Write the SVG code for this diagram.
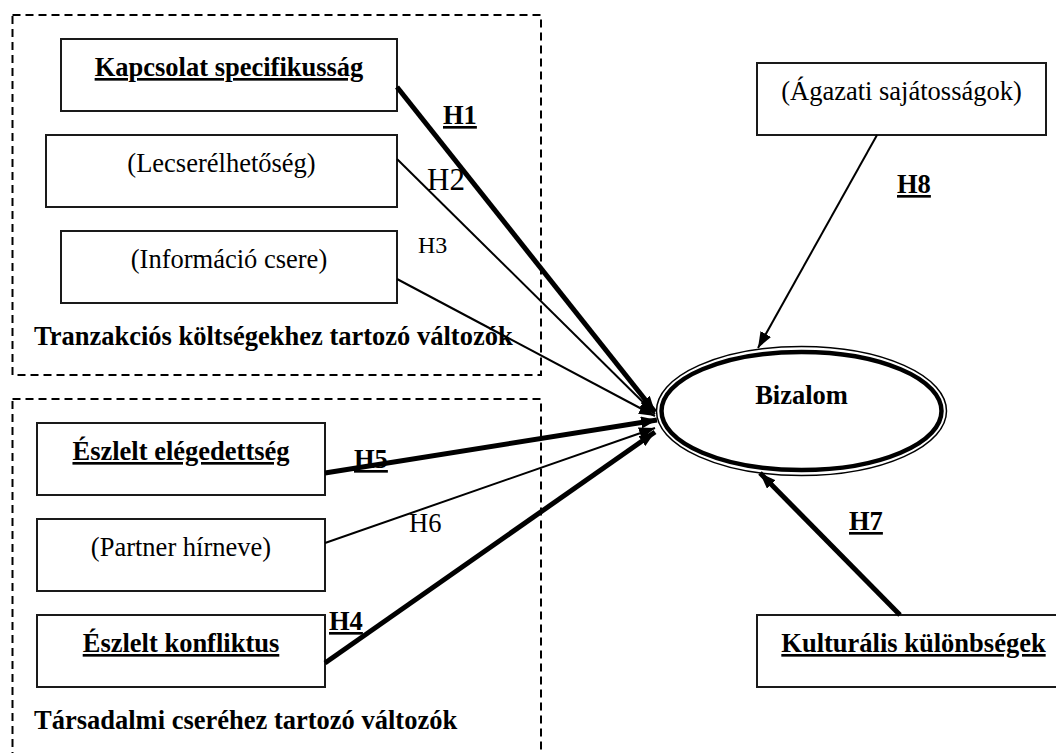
<svg xmlns="http://www.w3.org/2000/svg" width="1056" height="753" viewBox="0 0 1056 753">
<defs>
<style>
.grp{fill:none;stroke:#000;stroke-width:2;stroke-dasharray:8,5}
.box{fill:#fff;stroke:#1a1a1a;stroke-width:2}
text{font-family:"Liberation Serif","Times New Roman",serif;font-size:26.5px;fill:#000}
.b{font-weight:bold}
.c{text-anchor:middle}
.u{text-decoration:underline;text-decoration-thickness:3px;text-underline-offset:2px}
.thin{stroke:#000;stroke-width:2;fill:none}
.thick{stroke:#000;stroke-width:5;fill:none}
</style>
<marker id="ah" markerUnits="userSpaceOnUse" markerWidth="16" markerHeight="12" refX="16" refY="6" orient="auto">
<path d="M0,0 L16,6 L0,12 z" fill="#000"/>
</marker>
</defs>

<g id="groups">
<rect class="grp" x="12.5" y="15" width="528.5" height="360"/>
<rect class="grp" x="12.5" y="399" width="528.5" height="380"/>
<text class="b" x="34" y="345">Tranzakciós költségekhez tartozó változók</text>
<text class="b" x="34" y="729">Társadalmi cseréhez tartozó változók</text>
</g>

<g id="n-kapcsolat">
<rect class="box" x="61" y="39" width="336" height="72"/>
<text class="b c u" x="229" y="76">Kapcsolat specifikusság</text>
</g>
<g id="n-lecserelhetoseg">
<rect class="box" x="46" y="135" width="351" height="72"/>
<text class="c" x="221.5" y="172">(Lecserélhetőség)</text>
</g>
<g id="n-informacio">
<rect class="box" x="61" y="231" width="336" height="72"/>
<text class="c" x="229" y="268">(Információ csere)</text>
</g>
<g id="n-elegedettseg">
<rect class="box" x="37" y="423" width="288" height="72"/>
<text class="b c u" x="181" y="460">Észlelt elégedettség</text>
</g>
<g id="n-partner">
<rect class="box" x="37" y="519" width="288" height="72"/>
<text class="c" x="181" y="556">(Partner hírneve)</text>
</g>
<g id="n-konfliktus">
<rect class="box" x="37" y="615" width="288" height="72"/>
<text class="b c u" x="181" y="652">Észlelt konfliktus</text>
</g>
<g id="n-agazati">
<rect class="box" x="757" y="63" width="289" height="72"/>
<text class="c" x="901.5" y="100">(Ágazati sajátosságok)</text>
</g>
<g id="n-kulturalis">
<rect class="box" x="757" y="615" width="313" height="72"/>
<text class="b c u" x="913.5" y="652">Kulturális különbségek</text>
</g>
<g id="n-bizalom">
<ellipse cx="801.5" cy="411" rx="145" ry="64.5" fill="#fff" stroke="#000" stroke-width="1.5"/>
<ellipse cx="801.5" cy="411" rx="140" ry="59" fill="#fff" stroke="#000" stroke-width="4.5"/>
<text class="b c" x="801.5" y="404">Bizalom</text>
</g>

<g id="connectors">
<line class="thick" x1="397" y1="87" x2="655" y2="412" marker-end="url(#ah)"/>
<line class="thin" x1="397" y1="159" x2="655" y2="414" marker-end="url(#ah)"/>
<line class="thin" x1="397" y1="279" x2="655" y2="416" marker-end="url(#ah)"/>
<line class="thick" x1="325" y1="473" x2="657" y2="420" marker-end="url(#ah)"/>
<line class="thin" x1="325" y1="543" x2="655" y2="428" marker-end="url(#ah)"/>
<line class="thick" x1="325" y1="663" x2="655" y2="432" marker-end="url(#ah)"/>
<line class="thin" x1="877" y1="135" x2="758" y2="348" stroke-width="2.5" marker-end="url(#ah)"/>
<line class="thick" x1="900" y1="615" x2="760" y2="473" stroke-width="4.5" marker-end="url(#ah)"/>
</g>

<g id="labels">
<text class="b u" x="443" y="124">H1</text>
<text x="427" y="190" style="font-size:31px">H2</text>
<text x="418" y="253" style="font-size:24px">H3</text>
<text class="b u" x="354" y="468">H5</text>
<text x="409" y="532">H6</text>
<text class="b u" x="329" y="630">H4</text>
<text class="b u" x="897" y="193">H8</text>
<text class="b u" x="849" y="530">H7</text>
</g>
</svg>
